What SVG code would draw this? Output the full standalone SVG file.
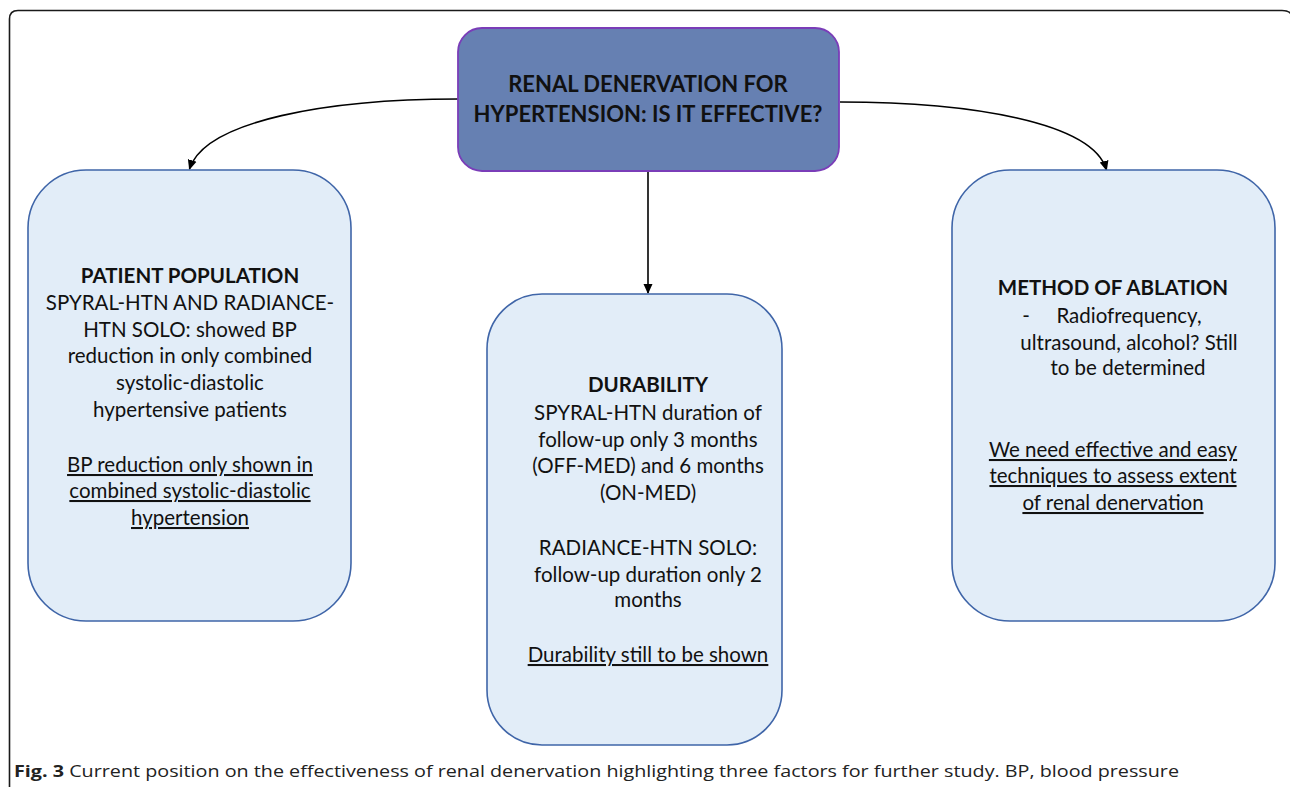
<svg xmlns="http://www.w3.org/2000/svg" width="1290" height="787" viewBox="0 0 1290 787">
<defs>
<style>
.frame{fill:none;stroke:#1a1a1a;stroke-width:1.6}
.box{fill:#E2EDF8;stroke:#3F65A8;stroke-width:1.6}
.top{fill:#6680B2;stroke:#7A3DB8;stroke-width:1.8}
.t{font-family:Lato,"Open Sans","Liberation Sans",sans-serif;font-size:20.5px;fill:#111;text-anchor:middle}
.h{font-size:22px}
.b{font-weight:bold}
.u{text-decoration:underline}
.conn{fill:none;stroke:#000;stroke-width:1.6}
.cap{font-family:"Open Sans","Liberation Sans",sans-serif;font-size:16.5px;fill:#222}
</style>
<marker id="ah" markerWidth="10" markerHeight="10" refX="9" refY="5" orient="auto" markerUnits="userSpaceOnUse">
<path d="M0,0.5 L10,5 L0,9.5 Z" fill="#000"/>
</marker>
</defs>
<rect width="1290" height="787" fill="#fff"/>
<path class="frame" d="M9.5 787 L9.5 19 Q9.5 10.5 18 10.5 L1282 10.5 Q1289 10.5 1291 14"/>

<g id="connectors">
<path class="conn" d="M458 99 C330 99 205 120 189.5 169" marker-end="url(#ah)"/>
<path class="conn" d="M840 102 C970 102 1093 122 1106.5 170" marker-end="url(#ah)"/>
<path class="conn" d="M648 171 L648 293" marker-end="url(#ah)"/>
</g>

<g id="node-main">
<rect class="top" x="458" y="28" width="381" height="143" rx="24"/>
<text class="t h b" x="648" y="92">RENAL DENERVATION FOR</text>
<text class="t h b" x="648" y="122">HYPERTENSION: IS IT EFFECTIVE?</text>
</g>

<g id="node-patient">
<rect class="box" x="28" y="170" width="323" height="451" rx="58"/>
<text class="t b" x="190" y="283">PATIENT POPULATION</text>
<text class="t" x="190" y="310">SPYRAL-HTN AND RADIANCE-</text>
<text class="t" x="190" y="337">HTN SOLO: showed BP</text>
<text class="t" x="190" y="363">reduction in only combined</text>
<text class="t" x="190" y="390">systolic-diastolic</text>
<text class="t" x="190" y="417">hypertensive patients</text>
<text class="t u" x="190" y="472">BP reduction only shown in</text>
<text class="t u" x="190" y="498">combined systolic-diastolic</text>
<text class="t u" x="190" y="525">hypertension</text>
</g>

<g id="node-durability">
<rect class="box" x="487" y="294" width="295" height="451" rx="55"/>
<text class="t b" x="648" y="392">DURABILITY</text>
<text class="t" x="648" y="420">SPYRAL-HTN duration of</text>
<text class="t" x="648" y="447">follow-up only 3 months</text>
<text class="t" x="648" y="473">(OFF-MED) and 6 months</text>
<text class="t" x="648" y="500">(ON-MED)</text>
<text class="t" x="648" y="555">RADIANCE-HTN SOLO:</text>
<text class="t" x="648" y="582">follow-up duration only 2</text>
<text class="t" x="648" y="607">months</text>
<text class="t u" x="648" y="662">Durability still to be shown</text>
</g>

<g id="node-method">
<rect class="box" x="952" y="170" width="323" height="451" rx="58"/>
<text class="t b" x="1113" y="295">METHOD OF ABLATION</text>
<text class="t" x="1026" y="323">-</text>
<text class="t" x="1129" y="323">Radiofrequency,</text>
<text class="t" x="1129" y="350">ultrasound, alcohol? Still</text>
<text class="t" x="1128" y="375">to be determined</text>
<text class="t u" x="1113" y="457">We need effective and easy</text>
<text class="t u" x="1113" y="483">techniques to assess extent</text>
<text class="t u" x="1113" y="510">of renal denervation</text>
</g>

<text class="cap" x="14" y="777" textLength="1165" lengthAdjust="spacingAndGlyphs"><tspan font-weight="bold">Fig. 3</tspan> Current position on the effectiveness of renal denervation highlighting three factors for further study. BP, blood pressure</text>
</svg>
